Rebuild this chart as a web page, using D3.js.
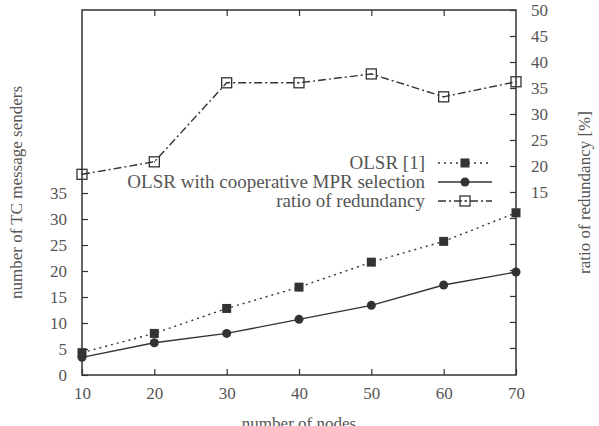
<!DOCTYPE html>
<html>
<head>
<meta charset="utf-8">
<script src="https://cdn.jsdelivr.net/npm/d3@7"></script>
<style>
  body { margin: 0; background: #fff; }
  text { font-family: "Liberation Serif", "DejaVu Serif", serif; fill: #555; }
</style>
</head>
<body>
<script>
// Data
const nodes = [10, 20, 30, 40, 50, 60, 70];
const olsr = [4.3, 8.0, 12.8, 16.9, 21.7, 25.7, 31.2];
const coop = [3.4, 6.2, 8.0, 10.7, 13.4, 17.3, 19.8];
const redundancy = [18.4, 20.8, 36.0, 36.0, 37.7, 33.3, 36.2];
const leftTicks = [0, 5, 10, 15, 20, 25, 30, 35];
const rightTicks = [-15, -10, -5, 0, 5, 10, 15, 20, 25, 30, 35, 40, 45, 50];
const legendLabels = ["OLSR [1]", "OLSR with cooperative MPR selection", "ratio of redundancy"];

const width = 599, height = 426;
const margin = { top: 10, right: 83, bottom: 51, left: 82 };
const w = width - margin.left - margin.right,
  h = height - margin.top - margin.bottom;
const ink = "#333";
const fs = "17px";

const svg = d3.select("body").append("svg")
  .attr("width", width)
  .attr("height", height);
const g = svg.append("g")
  .attr("transform", "translate(" + margin.left + "," + margin.top + ")");

const x = d3.scaleLinear().domain([10, 70]).range([0, w]);
const y = d3.scaleLinear().domain([0, 70.2]).range([h, 0]);
const y2 = d3.scaleLinear().domain([-20.2, 50]).range([h, 0]);

// axes, gnuplot style: inward ticks, mirrored on top / right
function styleAxis(sel) {
  sel.select(".domain").remove();
  sel.selectAll("line").attr("stroke", ink).attr("stroke-width", 1.2);
  sel.selectAll("text").style("font-size", fs).attr("fill", "#555");
}

g.append("g")
  .attr("transform", "translate(0," + h + ")")
  .call(d3.axisBottom(x).tickValues(nodes).tickSize(-6).tickPadding(12).tickFormat(d3.format("d")))
  .call(styleAxis);

g.append("g")
  .call(d3.axisTop(x).tickValues(nodes.slice(1, -1)).tickSize(-6).tickFormat(""))
  .call(styleAxis);

g.append("g")
  .call(d3.axisLeft(y).tickValues(leftTicks).tickSize(-6).tickPadding(15).tickFormat(d3.format("d")))
  .call(styleAxis);

g.append("g")
  .attr("transform", "translate(" + w + ",0)")
  .call(d3.axisRight(y2).tickValues(rightTicks).tickSize(-6).tickPadding(15)
    .tickFormat(d => d >= 15 ? d : ""))
  .call(styleAxis);

// frame
g.append("rect")
  .attr("width", w).attr("height", h)
  .attr("fill", "none").attr("stroke", ink).attr("stroke-width", 1.5);

// axis titles
svg.append("text")
  .attr("x", margin.left + w / 2).attr("y", 429)
  .attr("text-anchor", "middle").style("font-size", fs)
  .text("number of nodes");
svg.append("text")
  .attr("transform", "translate(22," + (margin.top + h / 2) + ") rotate(-90)")
  .attr("text-anchor", "middle").style("font-size", fs)
  .text("number of TC message senders");
svg.append("text")
  .attr("transform", "translate(590," + (margin.top + h / 2) + ") rotate(-90)")
  .attr("text-anchor", "middle").style("font-size", fs)
  .text("ratio of redundancy [%]");

// series
const series = [
  { vals: olsr, scale: y, dash: "2,4", marker: "fsquare" },
  { vals: coop, scale: y, dash: null, marker: "circle" },
  { vals: redundancy, scale: y2, dash: "8,3,2,3", marker: "osquare" }
];

function drawMarker(sel, type, cx, cy) {
  if (type === "circle") {
    sel.append("circle").attr("cx", cx).attr("cy", cy).attr("r", 4.5).attr("fill", ink);
  } else if (type === "fsquare") {
    sel.append("rect").attr("x", cx - 4.5).attr("y", cy - 4.5)
      .attr("width", 9).attr("height", 9).attr("fill", ink);
  } else {
    sel.append("rect").attr("x", cx - 5).attr("y", cy - 5)
      .attr("width", 10).attr("height", 10)
      .attr("fill", "none").attr("stroke", ink).attr("stroke-width", 1.3);
    sel.append("circle").attr("cx", cx).attr("cy", cy).attr("r", 0.7).attr("fill", ink);
  }
}

series.forEach(s => {
  const line = d3.line().x((d, i) => x(nodes[i])).y(d => s.scale(d));
  g.append("path")
    .datum(s.vals)
    .attr("d", line)
    .attr("fill", "none")
    .attr("stroke", ink)
    .attr("stroke-width", 1.4)
    .attr("stroke-dasharray", s.dash);
  const mg = g.append("g");
  s.vals.forEach((v, i) => drawMarker(mg, s.marker, x(nodes[i]), s.scale(v)));
});

// legend
const legend = svg.append("g");
series.forEach((s, i) => {
  const ly = 163 + i * 19;
  legend.append("text")
    .attr("x", 425).attr("y", ly + 6)
    .attr("text-anchor", "end").style("font-size", "19px")
    .text(legendLabels[i]);
  legend.append("line")
    .attr("x1", 438).attr("x2", 492).attr("y1", ly).attr("y2", ly)
    .attr("stroke", ink).attr("stroke-width", 1.4)
    .attr("stroke-dasharray", s.dash);
  drawMarker(legend, s.marker, 465, ly);
});
</script>
</body>
</html>
